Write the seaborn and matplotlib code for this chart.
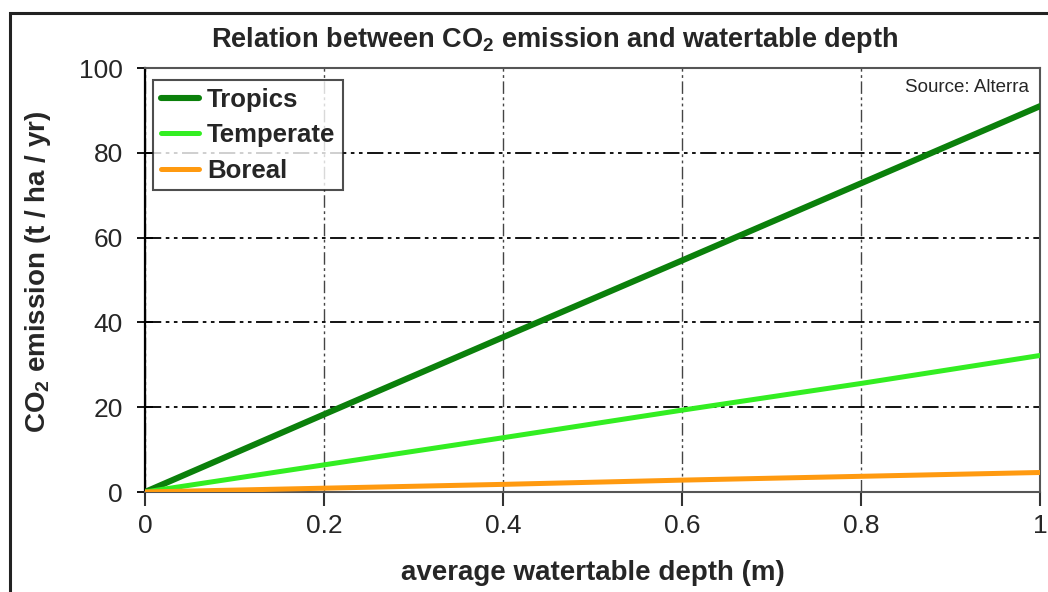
import matplotlib
matplotlib.use("Agg")
import matplotlib.pyplot as plt
import seaborn as sns
import pandas as pd
from matplotlib.patches import Rectangle

# values
depth = [0.0, 0.2, 0.4, 0.6, 0.8, 1.0]
tropics = [0.0, 18.3, 36.5, 54.6, 72.8, 91.0]
temperate = [0.0, 6.4, 12.8, 19.3, 25.6, 32.2]
boreal = [0.0, 0.9, 1.8, 2.8, 3.7, 4.6]
series_names = ["Tropics", "Temperate", "Boreal"]
x_ticks = [0, 0.2, 0.4, 0.6, 0.8, 1]
x_tick_labels = ["0", "0.2", "0.4", "0.6", "0.8", "1"]
y_ticks = [0, 20, 40, 60, 80, 100]

colors = {"Tropics": "#0b800b", "Temperate": "#33ee22", "Boreal": "#ff9a10"}
widths = {"Tropics": 4.4, "Temperate": 3.6, "Boreal": 3.6}

df = pd.DataFrame({"depth": depth * 3,
                   "emission": tropics + temperate + boreal,
                   "zone": [n for n in series_names for _ in depth]})

sns.set_style("white")
plt.rcParams["font.family"] = ["Liberation Sans", "DejaVu Sans"]
plt.rcParams["mathtext.default"] = "regular"

fig = plt.figure(figsize=(10.48, 5.92), dpi=100)
ax = fig.add_axes([145 / 1048, 1 - 492 / 592, (1040 - 145) / 1048, (492 - 68) / 592])

# outer frame of the picture (runs off the right and bottom edges)
fig.patches.append(Rectangle((10 / 1048, -0.05), 1.2, 1 - 13 / 592 + 0.05, transform=fig.transFigure,
                             fill=False, edgecolor="#222222", linewidth=2.2, zorder=0))

for name in series_names:
    sns.lineplot(data=df[df.zone == name], x="depth", y="emission", ax=ax, color=colors[name],
                 linewidth=widths[name], label=name, solid_capstyle="round", zorder=3)

ax.set_xlim(0, 1)
ax.set_ylim(0, 100)
ax.set_xticks(x_ticks)
ax.set_xticklabels(x_tick_labels)
ax.set_yticks(y_ticks)

grid_style = (0, (9, 2.5, 2, 2.5, 2, 2.5))
ax.grid(True, axis="y", color="black", linewidth=1.3, linestyle=grid_style)
ax.grid(True, axis="x", color="#444444", linewidth=1.0, linestyle=grid_style)

for side in ["top", "right", "bottom"]:
    ax.spines[side].set_color("#555555")
    ax.spines[side].set_linewidth(1.5)
ax.spines["left"].set_color("black")
ax.spines["left"].set_linewidth(1.6)

ax.tick_params(axis="x", direction="out", length=10, width=1.5, color="#333333",
               labelsize=19, pad=6, bottom=True)
ax.tick_params(axis="y", direction="inout", length=12, width=1.3, color="black",
               labelsize=19, pad=10, left=True)

ax.set_xlabel("average watertable depth (m)", fontsize=20, fontweight="bold", labelpad=16)
ax.set_ylabel("CO$_2$ emission (t / ha / yr)", fontsize=20, fontweight="bold")
ax.yaxis.set_label_coords(-0.103, 0.52)

fig.text(555 / 1048, 1 - 40 / 592, "Relation between CO$_2$ emission and watertable depth",
         ha="center", va="center", fontsize=19.5, fontweight="bold")
ax.text(0.988, 0.975, "Source: Alterra", transform=ax.transAxes, ha="right", va="top", fontsize=13.5)

leg = ax.legend(loc="upper left", bbox_to_anchor=(0.009, 0.972), frameon=True, fancybox=False,
                fontsize=18.5, handlelength=1.5, handletextpad=0.3, borderpad=0.3, labelspacing=0.45,
                borderaxespad=0)
leg.get_frame().set_edgecolor("#222222")
leg.get_frame().set_linewidth(1.5)
for t in leg.get_texts():
    t.set_fontweight("bold")

fig.savefig("out.png", dpi=100, facecolor="white")
